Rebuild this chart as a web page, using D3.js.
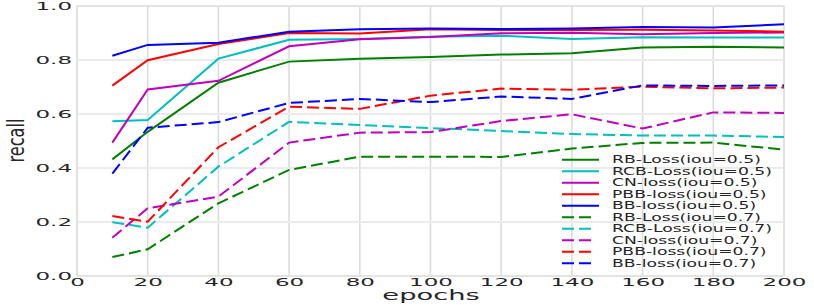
<!DOCTYPE html>
<html>
<head>
<meta charset="utf-8">
<script src="https://cdn.jsdelivr.net/npm/d3@7/dist/d3.min.js"></script>
<style>
  body { margin: 0; background: #fff; }
  svg { display: block; }
  text { font-family: "DejaVu Sans", sans-serif; fill: #262626; }
</style>
</head>
<body>
<svg id="chart" width="814" height="305"></svg>
<script>
// epochs on the x axis
var epochs = [10, 20, 40, 60, 80, 100, 120, 140, 160, 180, 200];

// iou = 0.5 (solid)
var rb05  = [0.432, 0.534, 0.716, 0.794, 0.805, 0.811, 0.820, 0.825, 0.846, 0.849, 0.846];
var rcb05 = [0.573, 0.578, 0.805, 0.875, 0.878, 0.886, 0.890, 0.878, 0.884, 0.883, 0.883];
var cn05  = [0.494, 0.691, 0.723, 0.851, 0.877, 0.885, 0.899, 0.901, 0.895, 0.900, 0.902];
var pbb05 = [0.705, 0.799, 0.859, 0.900, 0.898, 0.914, 0.911, 0.911, 0.912, 0.909, 0.905];
var bb05  = [0.816, 0.856, 0.864, 0.905, 0.914, 0.917, 0.915, 0.917, 0.922, 0.920, 0.932];

// iou = 0.7 (dashed)
var rb07  = [0.070, 0.099, 0.269, 0.393, 0.442, 0.442, 0.441, 0.472, 0.493, 0.494, 0.468];
var rcb07 = [0.199, 0.179, 0.405, 0.571, 0.559, 0.548, 0.537, 0.526, 0.520, 0.520, 0.515];
var cn07  = [0.142, 0.251, 0.294, 0.494, 0.531, 0.533, 0.574, 0.599, 0.546, 0.606, 0.604];
var pbb07 = [0.222, 0.201, 0.477, 0.627, 0.619, 0.668, 0.694, 0.690, 0.701, 0.695, 0.698];
var bb07  = [0.379, 0.549, 0.570, 0.641, 0.656, 0.644, 0.665, 0.656, 0.706, 0.704, 0.706];

var labels = ["RB-Loss(iou=0.5)", "RCB-Loss(iou=0.5)", "CN-loss(iou=0.5)", "PBB-loss(iou=0.5)", "BB-loss(iou=0.5)",
              "RB-Loss(iou=0.7)", "RCB-Loss(iou=0.7)", "CN-loss(iou=0.7)", "PBB-loss(iou=0.7)", "BB-loss(iou=0.7)"];
var xTicks = [0, 20, 40, 60, 80, 100, 120, 140, 160, 180, 200];
var yTicks = [0.0, 0.2, 0.4, 0.6, 0.8, 1.0];

var series = [rb05, rcb05, cn05, pbb05, bb05, rb07, rcb07, cn07, pbb07, bb07];
var colors = ["#008000", "#00bfbf", "#bf00bf", "#ff0000", "#0000ff"];

var svg = d3.select("#chart"),
    padLeft = 77, padTop = 6,
    width = 707, height = 270;

var x = d3.scaleLinear().domain([0, 200]).range([0, width]),
    y = d3.scaleLinear().domain([0, 1]).range([height, 0]);

var g = svg.append("g").attr("transform", "translate(" + padLeft + "," + padTop + ")");

// grid
g.append("g")
  .selectAll("line.vg").data(xTicks).enter().append("line")
  .attr("x1", d => x(d)).attr("x2", d => x(d))
  .attr("y1", 0).attr("y2", height)
  .attr("stroke", "#dcdcdc").attr("stroke-width", 1.6);
g.append("g")
  .selectAll("line.hg").data(yTicks).enter().append("line")
  .attr("x1", 0).attr("x2", width)
  .attr("y1", d => y(d)).attr("y2", d => y(d))
  .attr("stroke", "#ebebeb").attr("stroke-width", 2);

g.append("rect")
  .attr("width", width).attr("height", height)
  .attr("fill", "none").attr("stroke", "#e2e2e2").attr("stroke-width", 1.6);

// axes (labels only)
var sx = 2.3;
var xAxis = g.append("g")
  .attr("transform", "translate(0," + height + ")")
  .call(d3.axisBottom(x).tickValues(xTicks).tickSize(0).tickPadding(0));
xAxis.select(".domain").remove();
xAxis.selectAll("text")
  .attr("y", 9.7).attr("dy", 0)
  .attr("transform", "scale(" + sx + ",1)")
  .style("font-size", "10px").style("font-family", "DejaVu Sans").style("fill", "#262626");

var yAxis = g.append("g")
  .call(d3.axisLeft(y).tickValues(yTicks).tickFormat(d3.format(".1f")).tickSize(0).tickPadding(0));
yAxis.select(".domain").remove();
yAxis.selectAll("text")
  .attr("x", -5 / sx).attr("dy", "0.36em")
  .attr("transform", "scale(" + sx + ",1)")
  .style("font-size", "10px").style("font-family", "DejaVu Sans").style("fill", "#262626");

// lines
var line = d3.line()
  .x((d, i) => x(epochs[i]))
  .y(d => y(d));

series.forEach(function(s, k) {
  g.append("path")
    .datum(s)
    .attr("fill", "none")
    .attr("stroke", colors[k % 5])
    .attr("stroke-width", 2)
    .attr("stroke-dasharray", k < 5 ? null : "12,5")
    .attr("d", line);
});

// legend
var leg = svg.append("g").attr("transform", "translate(562,159.7)");
labels.forEach(function(name, k) {
  var row = leg.append("g").attr("transform", "translate(0," + (k * 11.5) + ")");
  row.append("line")
    .attr("x1", 0).attr("x2", k < 5 ? 37 : 31)
    .attr("stroke", colors[k % 5]).attr("stroke-width", 2)
    .attr("stroke-dasharray", k < 5 ? null : "12,5");
  row.append("text")
    .attr("transform", "translate(50,0) scale(1.72,1)")
    .attr("dy", "0.36em")
    .style("font-size", "10px")
    .text(name);
});

// axis titles
svg.append("text")
  .attr("transform", "translate(431,300) scale(1.95,1)")
  .attr("text-anchor", "middle")
  .style("font-size", "14px")
  .text("epochs");

svg.append("text")
  .attr("transform", "translate(23.5,140.5) scale(1.25,1) rotate(-90)")
  .attr("text-anchor", "middle")
  .style("font-size", "18px")
  .style("font-family", "'Liberation Sans Narrow', 'DejaVu Sans Condensed', sans-serif")
  .text("recall");
</script>
</body>
</html>
